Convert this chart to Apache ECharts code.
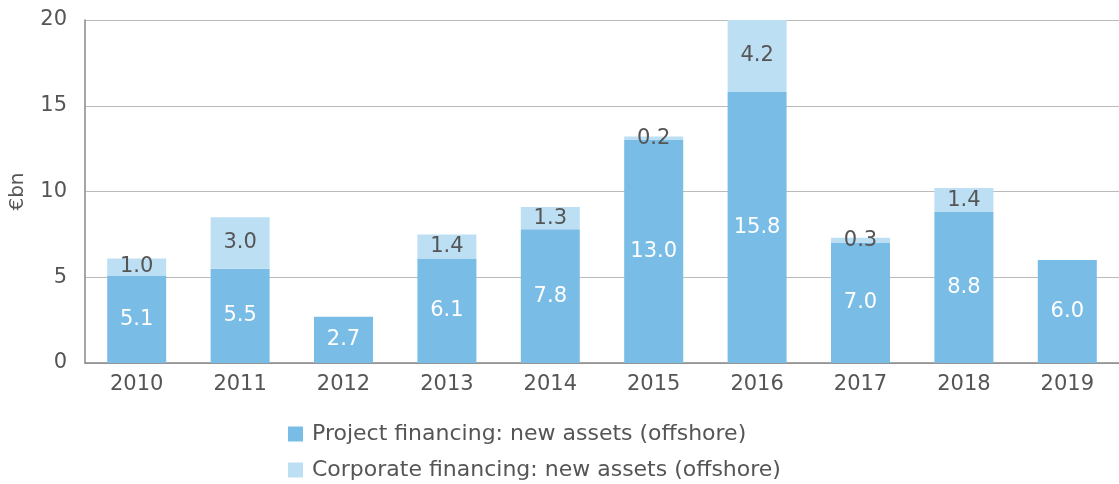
<!DOCTYPE html>
<html>
<head>
<meta charset="utf-8">
<script src="https://cdn.jsdelivr.net/npm/echarts@6/dist/echarts.min.js"></script>
<style>
  html, body { margin: 0; padding: 0; background: #fff; }
  #main { width: 1119px; height: 484px; }
</style>
</head>
<body>
<div id="main"></div>
<script>
// data
var years = ['2010', '2011', '2012', '2013', '2014', '2015', '2016', '2017', '2018', '2019'];
var projectFin = [5.1, 5.5, 2.7, 6.1, 7.8, 13.0, 15.8, 7.0, 8.8, 6.0];
var corporateFin = [1.0, 3.0, null, 1.4, 1.3, 0.2, 4.2, 0.3, 1.4, null];
var yTicks = [0, 5, 10, 15, 20];
var seriesNames = [ 'Project financing: new assets (offshore)',
		'Corporate financing: new assets (offshore)' ];

var textColor = '#555555';
var fontName = 'DejaVu Sans';

// one legend per row, stacked under the chart
function legendRow(name, top) {
	return {
		left : 283,
		top : top,
		itemWidth : 15,
		itemHeight : 15,
		icon : 'rect',
		textStyle : {
			color : textColor,
			fontSize : 22,
			fontFamily : fontName,
			padding : [ 0, 0, 0, 4 ]
		},
		data : [ name ]
	};
}

var myChart = echarts.init(document.getElementById('main'));
var option = {
	animation : false,
	grid : {
		left : 84,
		right : -8,
		top : 20,
		bottom : 121
	},
	legend : [ legendRow(seriesNames[0], 418), legendRow(seriesNames[1], 454) ],
	xAxis : {
		type : 'category',
		data : years,
		axisLine : {
			lineStyle : { color : '#888888', width : 1.5 }
		},
		axisTick : { show : false },
		axisLabel : {
			color : textColor,
			fontSize : 21,
			fontFamily : fontName,
			margin : 11
		}
	},
	yAxis : {
		type : 'value',
		min : yTicks[0],
		max : yTicks[yTicks.length - 1],
		interval : 5,
		name : '€bn',
		nameLocation : 'middle',
		nameGap : 57,
		nameTextStyle : {
			color : textColor,
			fontSize : 20,
			fontFamily : fontName
		},
		axisLine : {
			show : true,
			lineStyle : { color : '#888888', width : 1.5 }
		},
		axisTick : { show : false },
		splitLine : {
			lineStyle : { color : '#bbbbbb', width : 1.2 }
		},
		axisLabel : {
			color : textColor,
			fontSize : 21,
			fontFamily : fontName,
			margin : 18
		}
	},
	series : [ {
		name : seriesNames[0],
		type : 'bar',
		stack : 'total',
		barWidth : 59,
		data : projectFin,
		itemStyle : { color : '#79bce6' },
		label : {
			show : true,
			position : 'inside',
			color : '#ffffff',
			fontSize : 21,
			fontFamily : fontName,
			formatter : function(p) {
				return p.value.toFixed(1);
			}
		}
	}, {
		name : seriesNames[1],
		type : 'bar',
		stack : 'total',
		barWidth : 59,
		data : corporateFin,
		itemStyle : { color : '#bddff3' },
		label : {
			show : true,
			position : 'inside',
			color : textColor,
			fontSize : 21,
			fontFamily : fontName,
			formatter : function(p) {
				return p.value == null ? '' : p.value.toFixed(1);
			}
		}
	} ]
};
myChart.setOption(option);
</script>
</body>
</html>
